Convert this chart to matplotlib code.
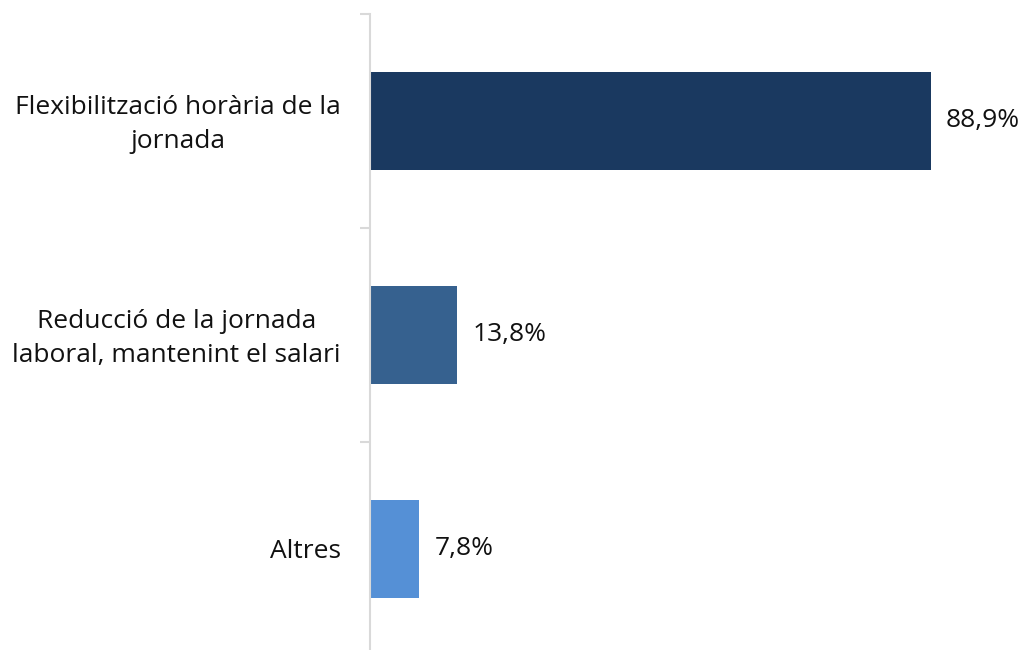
import matplotlib
matplotlib.use('Agg')
import matplotlib.pyplot as plt
import matplotlib.transforms as mtransforms
import numpy as np

plt.rcParams['font.family'] = ['Open Sans', 'DejaVu Sans']

# Data
categories = ['Flexibilització horària de la\njornada',
              'Reducció de la jornada\nlaboral, mantenint el salari',
              'Altres']
values = [88.9, 13.8, 7.8]
colors = ['#1a3960', '#36618f', '#5590d6']

fig = plt.figure(figsize=(10.26, 6.5), dpi=100)
ax = fig.add_axes([370 / 1026, -6 / 650, 656 / 1026, 642 / 650])

y = np.arange(len(categories))
ax.barh(y, values, height=0.46, color=colors)

for yi, v in zip(y, values):
    ax.text(v + 2.4, yi, f'{v:.1f}'.replace('.', ',') + '%',
            va='center', ha='left', fontsize=19, color='#111111')

ax.set_xlim(0, 104)
ax.set_ylim(len(categories) - 0.5, -0.5)

ax.set_yticks(y)
ax.set_yticklabels(categories, fontsize=19, color='#111111',
                   multialignment='center', linespacing=1.45)
ax.tick_params(axis='y', which='major', length=0, pad=21)
ax.set_yticks(np.arange(len(categories) + 1) - 0.5, minor=True)
ax.tick_params(axis='y', which='minor', length=7, color='#d9d9d9', width=1.5)
ax.set_xticks([])

# nudge two-line labels up a little
shift = mtransforms.ScaledTranslation(0, 4 / 100, fig.dpi_scale_trans)
for lbl in ax.get_yticklabels():
    if '\n' in lbl.get_text():
        lbl.set_transform(lbl.get_transform() + shift)

for s in ['top', 'right', 'bottom']:
    ax.spines[s].set_visible(False)
ax.spines['left'].set_color('#d9d9d9')
ax.spines['left'].set_linewidth(1.5)

fig.savefig('out.png', dpi=100)
